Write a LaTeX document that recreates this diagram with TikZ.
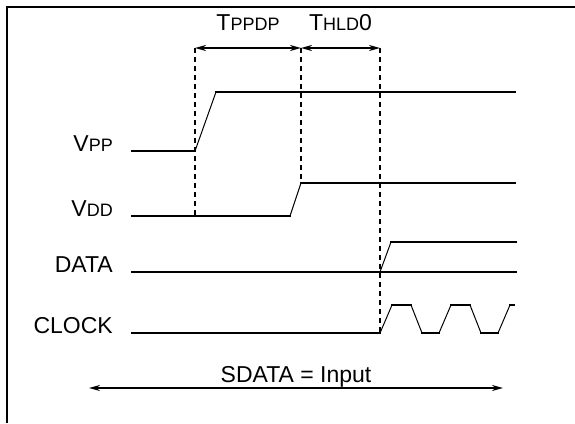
\documentclass[tikz,border=0pt]{standalone}
\usepackage{fontspec}
\setmainfont{Liberation Sans}
\usepackage{tikz}
\usetikzlibrary{arrows.meta,calc,positioning}
\newcommand{\lowcaps}[1]{{\fontsize{18}{18}\selectfont #1}}
\tikzset{
  sig/.style={line width=2pt, line cap=rect},
  edge/.style={line width=1pt},
  guide/.style={line width=1.8pt, dash pattern=on 5pt off 4pt},
  frame/.style={line width=2pt},
  dim/.style={{Stealth[length=11pt,width=6pt]}-{Stealth[length=11pt,width=6pt]}, line width=1.8pt},
  lbl/.style={font=\fontsize{23}{25}\selectfont, inner sep=0pt}
}
\begin{document}
\begin{tikzpicture}[x=1pt,y=-1pt]
    \useasboundingbox (0,0) rectangle (575,423);

    %% Frame (open at right and bottom)
    \draw[frame] (575,7) -- (7,7) -- (7,423);

    %% Guide tops
    \coordinate (g1) at (195,48);
    \coordinate (g2) at (301,48);
    \coordinate (g3) at (380,48);

    %% Timing parameters
    \draw[dim] (g1) -- (g2);
    \draw[dim] (g2) -- (g3);
    \node[lbl, anchor=base] (tppdp) at ($(g1)!0.5!(g2)+(0,-18)$) {T\lowcaps{PPDP}};
    \node[lbl, anchor=base] (thld) at ($(g2)!0.5!(g3)+(0,-18)$) {T\lowcaps{HLD}0};

    %% Signal names
    \foreach \n/\y/\t in {vpp/151/V\lowcaps{PP},vdd/216/V\lowcaps{DD},data/272/DATA,clock/333/CLOCK}{
      \node[lbl, anchor=base east] (\n) at (113,\y) {\t};
    }

    %% VPP
    \draw[sig] (132,151) -- (195,151);
    \draw[edge] (195,151) -- (216,92);
    \draw[sig] (216,92) -- (515,92);

    %% VDD
    \draw[sig] (132,216) -- (290,216);
    \draw[edge] (290,216) -- (301,183);
    \draw[sig] (301,183) -- (515,183);

    %% DATA
    \draw[sig] (132,272) -- (516,272);
    \draw[edge] (380,272) -- (391,242);
    \draw[sig] (391,242) -- (516,242);

    %% CLOCK
    \draw[sig] (132,333) -- (380,333);
    \foreach \a in {380,439,498}{
      \draw[edge] (\a,333) -- (\a+12,305);
    }
    \foreach \a in {392,451}{
      \draw[sig] (\a,305) -- (\a+19,305);
      \draw[edge] (\a+19,305) -- (\a+30,333);
      \draw[sig] (\a+30,333) -- (\a+47,333);
    }
    \draw[sig] (510,305) -- (514,305);

    %% Guides
    \draw[guide] (g1) -- (195,216);
    \draw[guide] (g2) -- (301,183);
    \draw[guide] (g3) -- (380,333);

    %% SDATA
    \coordinate (s1) at (89,388);
    \coordinate (s2) at (503,388);
    \draw[dim] (s1) -- (s2);
    \node[lbl, anchor=base] (sdata) at ($(s1)!0.5!(s2)+(0,-6)$) {SDATA = Input};

\end{tikzpicture}
\end{document}
